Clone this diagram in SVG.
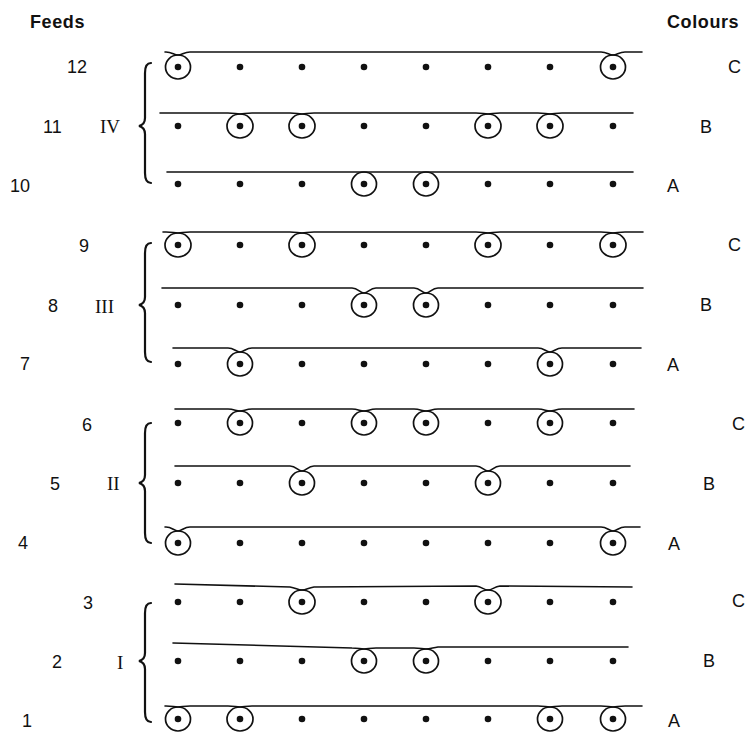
<svg xmlns="http://www.w3.org/2000/svg" width="749" height="733" viewBox="0 0 749 733">
<style>
.yarn{fill:none;stroke:#111;stroke-width:1.6;stroke-linecap:round}
.loop{fill:none;stroke:#111;stroke-width:1.7}
.dot{fill:#111}
.brace{fill:none;stroke:#111;stroke-width:2.2;stroke-linecap:round}
.lbl{font-family:"Liberation Sans",Arial,sans-serif;font-size:18px;fill:#111}
.hdr{font-family:"Liberation Sans",Arial,sans-serif;font-size:18px;font-weight:bold;letter-spacing:0.6px;fill:#111}
.rom{font-family:"Liberation Serif","Times New Roman",serif;font-size:19px;fill:#111}
</style>
<defs>
<circle id="d" r="3.3" class="dot"/>
</defs>
<rect width="749" height="733" fill="#fff"/>
<text class="hdr" x="30" y="28">Feeds</text>
<text class="hdr" x="667" y="28">Colours</text>

<g id="group-IV">
<path class="brace" d="M151 63 C146 63 145 67 145 73 L145 118 C145 123 143 125 139 126 C143 127 145 129 145 134 L145 173 C145 179 146 183 151 183"/>
<text class="rom" x="100" y="133">IV</text>
</g>
<g id="group-III">
<path class="brace" d="M151 243 C146 243 145 247 145 253 L145 297 C145 302 143 304 139 305 C143 306 145 308 145 313 L145 352 C145 358 146 362 151 362"/>
<text class="rom" x="95" y="313">III</text>
</g>
<g id="group-II">
<path class="brace" d="M151 423 C146 423 145 427 145 433 L145 475 C145 480 143 482 139 483 C143 484 145 486 145 491 L145 533 C145 539 146 543 151 543"/>
<text class="rom" x="107" y="490">II</text>
</g>
<g id="group-I">
<path class="brace" d="M151 603 C146 603 145 607 145 613 L145 653 C145 658 143 660 139 661 C143 662 145 664 145 669 L145 712 C145 718 146 722 151 722"/>
<text class="rom" x="117" y="669">I</text>
</g>

<!-- Feed 12, colour C: loops at 1, 8 -->
<g id="feed-12">
<text class="lbl" x="67" y="73">12</text>
<path class="yarn" d="M165 52 L166 52 C172 52 174 55 178 55 C182 55 184 52 190 52 L601 52 C607 52 609 55 613 55 C617 55 619 52 625 52 L642 52"/>
<ellipse class="loop" cx="178" cy="67" rx="12.5" ry="12"/><ellipse class="loop" cx="613" cy="67" rx="12.5" ry="12"/>
<use href="#d" x="178" y="67"/><use href="#d" x="240" y="67"/><use href="#d" x="302" y="67"/><use href="#d" x="364" y="67"/><use href="#d" x="426" y="67"/><use href="#d" x="488" y="67"/><use href="#d" x="550" y="67"/><use href="#d" x="613" y="67"/>
<text class="lbl" x="728" y="73">C</text>
</g>

<!-- Feed 11, colour B: loops at 2,3,6,7 -->
<g id="feed-11">
<text class="lbl" x="43" y="133">11</text>
<path class="yarn" d="M160 113 L228 113 C234 113 236 114 240 114 C244 114 246 113 252 113 L290 113 C296 113 298 114 302 114 C306 114 308 113 314 113 L476 113 C482 113 484 114 488 114 C492 114 494 113 500 113 L538 113 C544 113 546 114 550 114 C554 114 556 113 562 113 L633 113"/>
<ellipse class="loop" cx="240" cy="126" rx="13" ry="12"/><ellipse class="loop" cx="302" cy="126" rx="13" ry="12"/><ellipse class="loop" cx="488" cy="126" rx="13" ry="12"/><ellipse class="loop" cx="550" cy="126" rx="13" ry="12"/>
<use href="#d" x="178" y="126"/><use href="#d" x="240" y="126"/><use href="#d" x="302" y="126"/><use href="#d" x="364" y="126"/><use href="#d" x="426" y="126"/><use href="#d" x="488" y="126"/><use href="#d" x="550" y="126"/><use href="#d" x="613" y="126"/>
<text class="lbl" x="700" y="133">B</text>
</g>

<!-- Feed 10, colour A: loops at 4,5 -->
<g id="feed-10">
<text class="lbl" x="10" y="192">10</text>
<path class="yarn" d="M167 172 L633 172"/>
<ellipse class="loop" cx="364" cy="184" rx="12.5" ry="12"/><ellipse class="loop" cx="426" cy="184" rx="12.5" ry="12"/>
<use href="#d" x="178" y="184"/><use href="#d" x="240" y="184"/><use href="#d" x="302" y="184"/><use href="#d" x="364" y="184"/><use href="#d" x="426" y="184"/><use href="#d" x="488" y="184"/><use href="#d" x="550" y="184"/><use href="#d" x="613" y="184"/>
<text class="lbl" x="667" y="192">A</text>
</g>

<!-- Feed 9, colour C: loops at 1,3,6,8 -->
<g id="feed-9">
<text class="lbl" x="79" y="252">9</text>
<path class="yarn" d="M163 232 L166 232 C172 232 174 233 178 233 C182 233 184 232 190 232 L290 232 C296 232 298 233 302 233 C306 233 308 232 314 232 L476 232 C482 232 484 233 488 233 C492 233 494 232 500 232 L601 232 C607 232 609 233 613 233 C617 233 619 232 625 232 L643 232"/>
<ellipse class="loop" cx="178" cy="245" rx="13" ry="12"/><ellipse class="loop" cx="302" cy="245" rx="13" ry="12"/><ellipse class="loop" cx="488" cy="245" rx="13" ry="12"/><ellipse class="loop" cx="613" cy="245" rx="13" ry="12"/>
<use href="#d" x="178" y="245"/><use href="#d" x="240" y="245"/><use href="#d" x="302" y="245"/><use href="#d" x="364" y="245"/><use href="#d" x="426" y="245"/><use href="#d" x="488" y="245"/><use href="#d" x="550" y="245"/><use href="#d" x="613" y="245"/>
<text class="lbl" x="728" y="251">C</text>
</g>

<!-- Feed 8, colour B: loops at 4,5 -->
<g id="feed-8">
<text class="lbl" x="48" y="312">8</text>
<path class="yarn" d="M162 288 L352 288 C358 288 360 293 364 293 C368 293 370 288 376 288 L414 288 C420 288 422 293 426 293 C430 293 432 288 438 288 L643 288"/>
<ellipse class="loop" cx="364" cy="305" rx="12.5" ry="12"/><ellipse class="loop" cx="426" cy="305" rx="12.5" ry="12"/>
<use href="#d" x="178" y="305"/><use href="#d" x="240" y="305"/><use href="#d" x="302" y="305"/><use href="#d" x="364" y="305"/><use href="#d" x="426" y="305"/><use href="#d" x="488" y="305"/><use href="#d" x="550" y="305"/><use href="#d" x="613" y="305"/>
<text class="lbl" x="700" y="311">B</text>
</g>

<!-- Feed 7, colour A: loops at 2,7 -->
<g id="feed-7">
<text class="lbl" x="20" y="370">7</text>
<path class="yarn" d="M173 348 L228 348 C234 348 236 352 240 352 C244 352 246 348 252 348 L538 348 C544 348 546 352 550 352 C554 352 556 348 562 348 L641 348"/>
<ellipse class="loop" cx="240" cy="364" rx="12.5" ry="12"/><ellipse class="loop" cx="550" cy="364" rx="12.5" ry="12"/>
<use href="#d" x="178" y="364"/><use href="#d" x="240" y="364"/><use href="#d" x="302" y="364"/><use href="#d" x="364" y="364"/><use href="#d" x="426" y="364"/><use href="#d" x="488" y="364"/><use href="#d" x="550" y="364"/><use href="#d" x="613" y="364"/>
<text class="lbl" x="667" y="371">A</text>
</g>

<!-- Feed 6, colour C: loops at 2,4,5,7 -->
<g id="feed-6">
<text class="lbl" x="82" y="431">6</text>
<path class="yarn" d="M175 409 L228 409 C234 409 236 411 240 411 C244 411 246 409 252 409 L352 409 C358 409 360 411 364 411 C368 411 370 409 376 409 L414 409 C420 409 422 411 426 411 C430 411 432 409 438 409 L538 409 C544 409 546 411 550 411 C554 411 556 409 562 409 L634 409"/>
<ellipse class="loop" cx="240" cy="423" rx="12.5" ry="12"/><ellipse class="loop" cx="364" cy="423" rx="12.5" ry="12"/><ellipse class="loop" cx="426" cy="423" rx="12.5" ry="12"/><ellipse class="loop" cx="550" cy="423" rx="12.5" ry="12"/>
<use href="#d" x="178" y="423"/><use href="#d" x="240" y="423"/><use href="#d" x="302" y="423"/><use href="#d" x="364" y="423"/><use href="#d" x="426" y="423"/><use href="#d" x="488" y="423"/><use href="#d" x="550" y="423"/><use href="#d" x="613" y="423"/>
<text class="lbl" x="732" y="430">C</text>
</g>

<!-- Feed 5, colour B: loops at 3,6 -->
<g id="feed-5">
<text class="lbl" x="50" y="490">5</text>
<path class="yarn" d="M175 466 L290 466 C296 466 298 471 302 471 C306 471 308 466 314 466 L476 466 C482 466 484 471 488 471 C492 471 494 466 500 466 L630 466"/>
<ellipse class="loop" cx="302" cy="483" rx="12.5" ry="12"/><ellipse class="loop" cx="488" cy="483" rx="12.5" ry="12"/>
<use href="#d" x="178" y="483"/><use href="#d" x="240" y="483"/><use href="#d" x="302" y="483"/><use href="#d" x="364" y="483"/><use href="#d" x="426" y="483"/><use href="#d" x="488" y="483"/><use href="#d" x="550" y="483"/><use href="#d" x="613" y="483"/>
<text class="lbl" x="703" y="490">B</text>
</g>

<!-- Feed 4, colour A: loops at 1,8 -->
<g id="feed-4">
<text class="lbl" x="18" y="549">4</text>
<path class="yarn" d="M165 527 L166 527 C172 527 174 531 178 531 C182 531 184 527 190 527 L601 527 C607 527 609 531 613 531 C617 531 619 527 625 527 L640 527"/>
<ellipse class="loop" cx="178" cy="543" rx="12.5" ry="12"/><ellipse class="loop" cx="613" cy="543" rx="12.5" ry="12"/>
<use href="#d" x="178" y="543"/><use href="#d" x="240" y="543"/><use href="#d" x="302" y="543"/><use href="#d" x="364" y="543"/><use href="#d" x="426" y="543"/><use href="#d" x="488" y="543"/><use href="#d" x="550" y="543"/><use href="#d" x="613" y="543"/>
<text class="lbl" x="668" y="550">A</text>
</g>

<!-- Feed 3, colour C: loops at 3,6 -->
<g id="feed-3">
<text class="lbl" x="83" y="609">3</text>
<path class="yarn" d="M175 584 L290 587 C296 588 298 590 302 590 C306 590 308 588 314 587 L476 586 C482 587 484 590 488 590 C492 590 494 587 500 586 L632 587"/>
<ellipse class="loop" cx="302" cy="602" rx="13" ry="12"/><ellipse class="loop" cx="488" cy="602" rx="13" ry="12"/>
<use href="#d" x="178" y="602"/><use href="#d" x="240" y="602"/><use href="#d" x="302" y="602"/><use href="#d" x="364" y="602"/><use href="#d" x="426" y="602"/><use href="#d" x="488" y="602"/><use href="#d" x="550" y="602"/><use href="#d" x="613" y="602"/>
<text class="lbl" x="732" y="607">C</text>
</g>

<!-- Feed 2, colour B: loops at 4,5 -->
<g id="feed-2">
<text class="lbl" x="52" y="668">2</text>
<path class="yarn" d="M173 643 L352 648 C358 648 360 649 364 649 C368 649 370 648 376 648 L414 648 C420 648 422 649 426 649 C430 649 432 648 438 647 L628 647"/>
<ellipse class="loop" cx="364" cy="661" rx="12.5" ry="12"/><ellipse class="loop" cx="426" cy="661" rx="12.5" ry="12"/>
<use href="#d" x="178" y="661"/><use href="#d" x="240" y="661"/><use href="#d" x="302" y="661"/><use href="#d" x="364" y="661"/><use href="#d" x="426" y="661"/><use href="#d" x="488" y="661"/><use href="#d" x="550" y="661"/><use href="#d" x="613" y="661"/>
<text class="lbl" x="703" y="667">B</text>
</g>

<!-- Feed 1, colour A: loops at 1,2,7,8 -->
<g id="feed-1">
<text class="lbl" x="22" y="727">1</text>
<path class="yarn" d="M165 706 L166 706 C172 706 174 707 178 707 C182 707 184 706 190 706 L228 706 C234 706 236 707 240 707 C244 707 246 706 252 706 L538 706 C544 706 546 707 550 707 C554 707 556 706 562 706 L601 706 C607 706 609 707 613 707 C617 707 619 706 625 706 L642 706"/>
<ellipse class="loop" cx="178" cy="719" rx="12.5" ry="12"/><ellipse class="loop" cx="240" cy="719" rx="13" ry="12"/><ellipse class="loop" cx="550" cy="719" rx="12.5" ry="12"/><ellipse class="loop" cx="613" cy="719" rx="12.5" ry="12"/>
<use href="#d" x="178" y="719"/><use href="#d" x="240" y="719"/><use href="#d" x="302" y="719"/><use href="#d" x="364" y="719"/><use href="#d" x="426" y="719"/><use href="#d" x="488" y="719"/><use href="#d" x="550" y="719"/><use href="#d" x="613" y="719"/>
<text class="lbl" x="668" y="727">A</text>
</g>
</svg>
